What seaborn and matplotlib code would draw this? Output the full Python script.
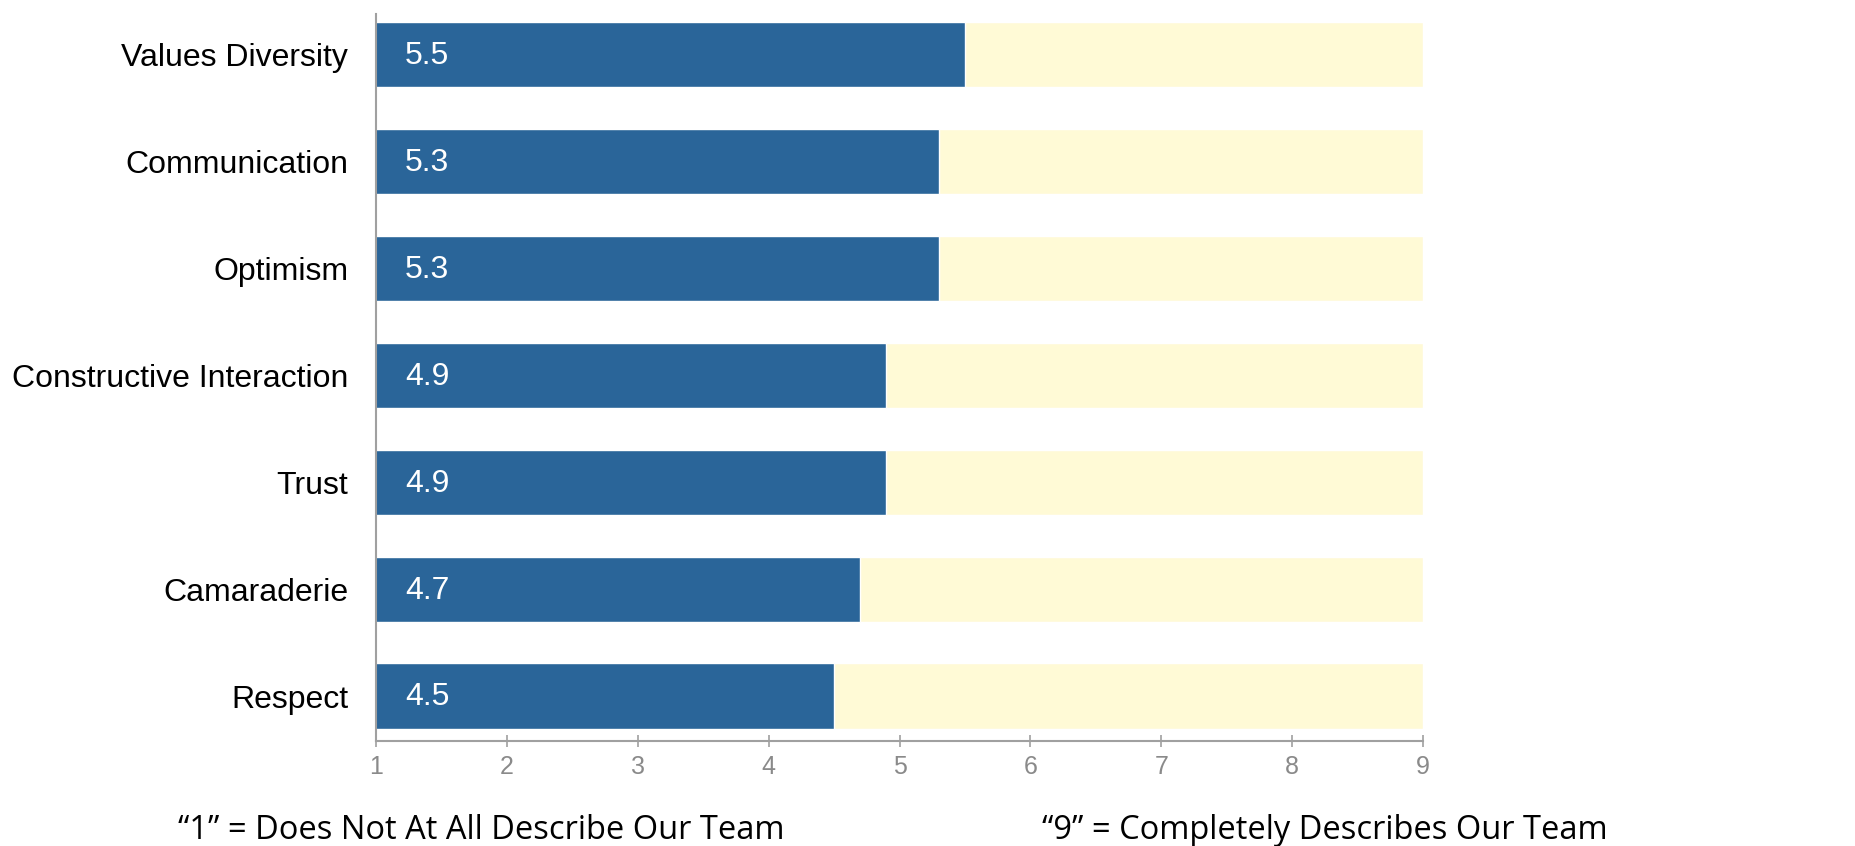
import matplotlib
matplotlib.use("Agg")
import matplotlib.pyplot as plt
import seaborn as sns
import pandas as pd

categories = ["Values Diversity", "Communication", "Optimism", "Constructive Interaction",
              "Trust", "Camaraderie", "Respect"]
scores = [5.5, 5.3, 5.3, 4.9, 4.9, 4.7, 4.5]
scale_max = [9, 9, 9, 9, 9, 9, 9]
x_ticks = [1, 2, 3, 4, 5, 6, 7, 8, 9]
low_note = "\u201c1\u201d = Does Not At All Describe Our Team"
high_note = "\u201c9\u201d = Completely Describes Our Team"

df = pd.DataFrame({"category": categories, "score": scores, "max": scale_max})

sns.set_style("white")
plt.rcParams['font.family'] = ['Liberation Sans', 'DejaVu Sans']

fig = plt.figure(figsize=(18.56, 8.46), dpi=100)
ax = fig.add_axes([0.2026, 0.1241, 0.5641, 0.8594])

# cream background track, then the blue score bar on top
sns.barplot(data=df, x="max", y="category", orient="h", color="#FFFAD6",
            saturation=1, width=0.61, ax=ax)
sns.barplot(data=df, x="score", y="category", orient="h", color="#2A6599",
            saturation=1, width=0.61, ax=ax)

for i, v in enumerate(scores):
    ax.annotate(f"{v:.1f}", xy=(1, i), xytext=(21, -1), textcoords="offset points",
                color="white", fontsize=23, va="center", ha="left")

ax.set_xlim(1, 9)
ax.set_ylim(len(categories) - 0.58, -0.38)
ax.set_xticks(x_ticks)
ax.set_xlabel("")
ax.set_ylabel("")

for side in ["top", "right"]:
    ax.spines[side].set_visible(False)
for side in ["left", "bottom"]:
    ax.spines[side].set_color("#A0A0A0")
    ax.spines[side].set_linewidth(1.5)

ax.tick_params(axis="y", length=0, pad=20, labelsize=23, labelcolor="black")
ax.tick_params(axis="x", bottom=True, direction="inout", length=8, width=1.2,
               color="#A0A0A0", pad=6, labelsize=18, labelcolor="#8A8A8A")

fig.text(0.0959, 0.018, low_note, fontsize=23.5, va="center", ha="left",
         family=["Open Sans", "DejaVu Sans"], color="black")
fig.text(0.5614, 0.018, high_note, fontsize=23.5, va="center", ha="left",
         family=["Open Sans", "DejaVu Sans"], color="black")

fig.savefig("out.png", dpi=100)
